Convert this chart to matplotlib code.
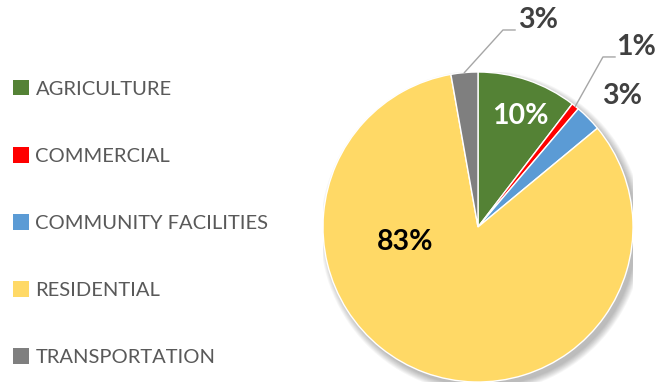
import numpy as np
import matplotlib.pyplot as plt
from matplotlib.patches import Circle, Patch

categories = ["AGRICULTURE", "COMMERCIAL", "COMMUNITY FACILITIES",
              "RESIDENTIAL", "TRANSPORTATION"]
shares = [10.4, 0.8, 2.8, 83.2, 2.8]
share_labels = ["10%", "1%", "3%", "83%", "3%"]
colors = ["#548235", "#FF0000", "#5B9BD5", "#FFD966", "#7F7F7F"]

W, H = 658, 386
fig = plt.figure(figsize=(W / 100, H / 100), dpi=100)
fig.patch.set_facecolor("white")

# pie axes: centre (478, 227) px, radius 155 px
cx, cy, R = 478, 227, 155
ax = fig.add_axes([(cx - R) / W, (H - cy - R) / H, 2 * R / W, 2 * R / H])
ax.set_xlim(-1, 1)
ax.set_ylim(-1, 1)
ax.set_aspect("equal")
ax.axis("off")

# soft drop shadow
for i in range(8):
    ax.add_patch(Circle((0.025, -0.03), 1.0 + 0.006 * i, facecolor="#000000",
                        alpha=0.035, edgecolor="none", zorder=0))

wedges, _ = ax.pie(shares, colors=colors, startangle=90, counterclock=False,
                   radius=1.0, wedgeprops=dict(edgecolor="white", linewidth=1.0),
                   center=(0, 0), frame=False)
for w in wedges:
    w.set_zorder(2)
ax.set_xlim(-1, 1)
ax.set_ylim(-1, 1)

font = "Lato"
lab_kw = dict(fontsize=20.5, fontweight="bold", family=font,
              ha="center", va="center", zorder=5)

# slice mid angles (clockwise from top)
cum = np.cumsum([0] + shares)
mids = np.deg2rad((cum[:-1] + cum[1:]) / 2 / 100 * 360)

ax.text(0.271, 0.716, share_labels[0], color="white", **lab_kw)
ax.text(-0.471, -0.097, share_labels[3], color="black", **lab_kw)
ax.text(0.93, 0.845, share_labels[2], color="#404040", **lab_kw)

# labels with leader lines
lead_col = "#A6A6A6"
for idx, elbow, tip, txt in [(1, (0.806, 1.097), (0.884, 1.097), (1.02, 1.161)),
                             (4, (0.161, 1.271), (0.239, 1.271), (0.387, 1.335))]:
    sx, sy = np.sin(mids[idx]), np.cos(mids[idx])
    ax.plot([sx, elbow[0], tip[0]], [sy, elbow[1], tip[1]], color=lead_col,
            lw=1.0, clip_on=False, zorder=4)
    ax.text(txt[0], txt[1], share_labels[idx], color="#404040", **lab_kw)

handles = [Patch(facecolor=c, edgecolor="none") for c in colors]
leg = fig.legend(handles, categories, loc="upper left",
                 bbox_to_anchor=(0.008, 1 - 72 / H), frameon=False,
                 prop=dict(family=font, size=14.5), labelcolor="#595959",
                 handlelength=0.8, handleheight=0.8, handletextpad=0.3,
                 labelspacing=2.45, borderaxespad=0)

fig.savefig("out.png", dpi=100, facecolor="white")
